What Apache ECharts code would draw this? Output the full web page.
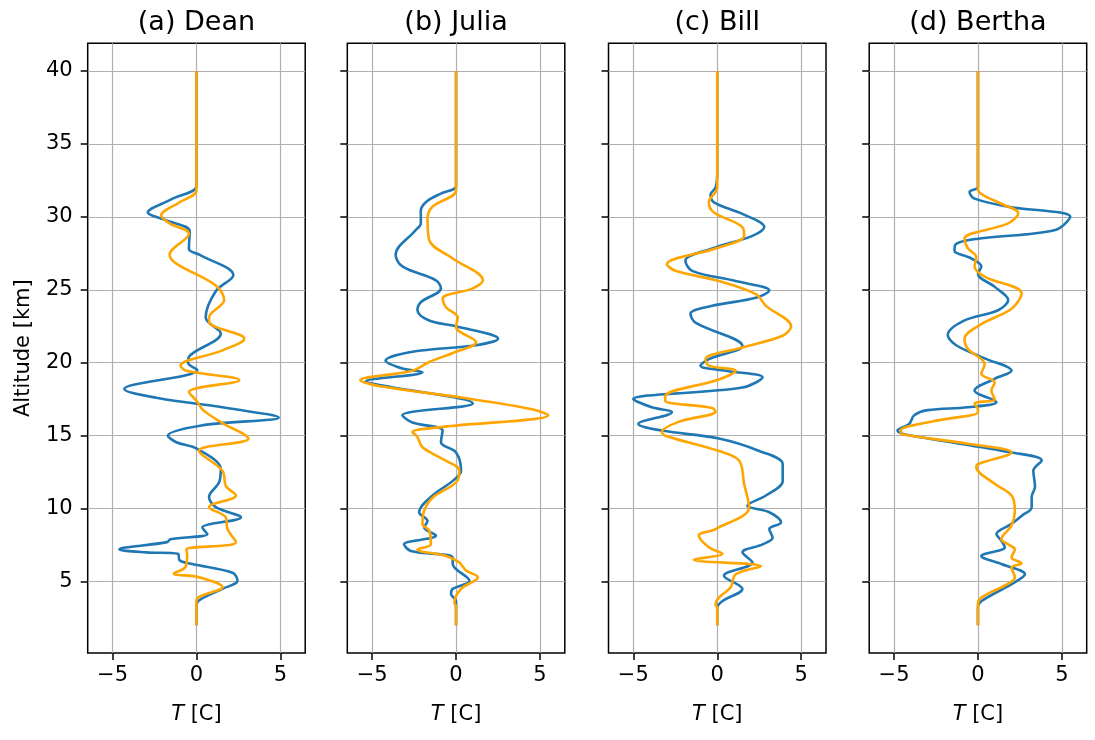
<!DOCTYPE html>
<html style="height: 100%">
<head>
    <meta charset="utf-8">
</head>
<body style="height: 100%; margin: 0; background: #fff">
<div id="container" style="width: 1095px; height: 740px"></div>
<script type="text/javascript" src="https://cdn.jsdelivr.net/npm/echarts@6/dist/echarts.min.js"></script>
<script type="text/javascript">
    var titles = ['(a) Dean', '(b) Julia', '(c) Bill', '(d) Bertha'];
    var xTicks = [-5, 0, 5];
    var yTicks = [5, 10, 15, 20, 25, 30, 35, 40];

    // profiles as [T, altitude km]
    var deanBlue = [[0, 40], [0, 33], [0, 32.1], [-1.5, 31.2], [-2.9, 30.3], [-1.9, 29.8], [-0.4, 29.0], [-0.45, 27.8],
        [0.2, 27.4], [2.2, 26.0], [1.15, 24.9], [0.55, 23.1], [1.45, 22.0], [-0.45, 20.4], [-0.5, 20.0], [0.05, 19.5],
        [-4.3, 18.2], [-2.4, 17.6], [2.1, 16.85], [4.9, 16.25], [0.3, 15.7], [-1.7, 15.0], [-1.2, 14.55], [0.05, 14.1],
        [1.45, 12.7], [1.35, 11.8], [0.75, 10.8], [1.15, 10.1], [2.65, 9.4], [0.35, 8.7], [0.65, 8.25], [-1.55, 7.9],
        [-1.75, 7.7], [-4.6, 7.2], [-3.0, 7.0], [-1.1, 6.9], [-1.0, 6.45], [-0.25, 6.2], [2.15, 5.6], [2.45, 5.05],
        [1.55, 4.5], [0.15, 3.7], [0, 3.3], [0, 2]];
    var deanOrange = [[0, 40], [0, 33], [0, 31.8], [-1.0, 31.0], [-2.1, 30.1], [-1.6, 29.55], [-0.45, 28.85], [-1.6, 27.4],
        [-1.2, 26.8], [1.15, 25.3], [1.65, 24.3], [0.75, 23.1], [0.75, 22.8], [2.85, 21.65], [1.55, 20.85], [-0.95, 19.8],
        [-0.6, 19.45], [2.55, 18.8], [-0.45, 18.0], [0, 17.4], [0.4, 16.75], [1.5, 15.9], [3.1, 14.8], [0.15, 13.95],
        [1.55, 12.6], [1.75, 11.55], [2.35, 10.9], [0.75, 10.1], [1.75, 9.4], [1.85, 8.6], [2.35, 7.7], [-0.6, 7.2],
        [-0.55, 6.9], [-0.65, 6.0], [-1.35, 5.55], [0.15, 5.3], [1.55, 4.6], [0, 3.7], [0, 2]];

    var juliaBlue = [[0, 40], [0, 33], [0, 32.1], [-0.9, 31.6], [-1.7, 31.1], [-2.1, 30.45], [-2.1, 29.55], [-2.4, 29.1],
        [-3.6, 27.4], [-3.2, 26.6], [-1.2, 25.65], [-0.9, 25.1], [-2.1, 24.15], [-2.3, 23.6], [-1.6, 22.9], [0, 22.5],
        [2.5, 21.65], [1.2, 21.2], [-2.6, 20.75], [-4.2, 20.15], [-3.2, 19.6], [-2.0, 19.35], [-5.4, 18.7], [-4.2, 18.4],
        [1.0, 17.2], [-3.2, 16.4], [-2.6, 15.9], [-0.8, 15.35], [-0.9, 14.55], [0, 13.85], [0.3, 12.6], [-0.2, 11.9],
        [-1.4, 10.9], [-2.2, 9.75], [-1.7, 9.15], [-1.9, 8.7], [-1.2, 8.15], [-3.1, 7.55], [-2.7, 7.1], [-0.2, 6.65],
        [-0.2, 6.2], [0.8, 5.05], [-0.2, 4.5], [-0.3, 4.15], [0, 3.65], [0, 2]];
    var juliaOrange = [[0, 40], [0, 33], [0, 31.8], [-1.4, 30.7], [-1.7, 29.9], [-1.6, 28.4], [-0.2, 27.15], [1.6, 25.65],
        [1.0, 25.1], [-0.8, 24.4], [-0.6, 23.8], [0.1, 23.1], [0, 22.45], [1.2, 21.4], [0, 20.75], [-1.6, 20.05],
        [-2.6, 19.45], [-5.7, 18.8], [-4.6, 18.4], [0.4, 17.6], [4.6, 16.8], [5.5, 16.4], [-0.8, 15.6], [-2.6, 15.25],
        [-2.3, 14.9], [-2.0, 14.2], [-0.8, 13.4], [0.2, 12.6], [0, 11.8], [-1.4, 10.75], [-1.9, 9.85], [-2.0, 8.95],
        [-1.6, 8.5], [-1.5, 7.55], [-2.3, 7.2], [-0.6, 6.75], [0.2, 6.3], [0.6, 5.75], [1.3, 5.3], [0.3, 4.5],
        [-0.1, 3.55], [0, 3.3], [0, 2]];

    var billBlue = [[0, 40], [0, 33], [-0.1, 32.0], [-0.4, 31.55], [-0.2, 31.0], [1.5, 30.2], [2.8, 29.3], [2.1, 28.7],
        [-0.1, 27.9], [-1.9, 27.0], [-1.5, 26.3], [1.1, 25.6], [3.1, 24.95], [2.3, 24.45], [-0.3, 23.9], [-1.6, 23.35],
        [-1.3, 22.75], [1.5, 21.15], [-0.5, 20.25], [-1.0, 19.8], [0.5, 19.45], [2.7, 19.0], [1.5, 18.3], [-5.0, 17.5],
        [-3.9, 16.95], [-2.7, 16.6], [-4.7, 15.8], [-3.3, 15.35], [0.1, 14.8], [2.5, 13.95], [3.9, 13.05], [3.9, 11.9],
        [2.9, 10.9], [1.8, 10.2], [3.1, 9.75], [3.8, 9.05], [3.1, 8.6], [3.3, 8.0], [2.7, 7.55], [1.5, 7.0], [2.1, 6.3],
        [0.4, 5.4], [1.5, 4.5], [0.3, 3.65], [0, 3.2], [0, 2]];
    var billOrange = [[0, 40], [0, 33], [0, 32.0], [-0.5, 31.0], [-0.2, 30.3], [1.5, 29.3], [1.6, 28.7], [0.1, 27.9],
        [-3.0, 26.75], [-2.5, 26.3], [0.1, 25.6], [2.3, 24.7], [2.9, 23.9], [4.4, 22.5], [3.9, 21.85], [1.5, 21.05],
        [-0.7, 20.25], [-0.5, 19.8], [1.1, 19.45], [0.1, 18.85], [-3.1, 17.7], [-3.1, 17.4], [-0.3, 16.9], [-0.1, 16.65],
        [-2.3, 15.95], [-3.3, 15.25], [-3.1, 15.0], [0.1, 13.95], [1.3, 13.3], [1.6, 11.7], [1.9, 10.1], [-0.1, 8.6],
        [-1.1, 8.15], [-0.5, 7.35], [0.3, 6.9], [-1.4, 6.5], [2.6, 6.05], [1.1, 5.5], [0.8, 4.6], [0.1, 3.9],
        [-0.1, 3.45], [0, 3.2], [0, 2]];

    var berthaBlue = [[0, 40], [0, 33], [0, 32.05], [-0.5, 31.7], [-0.2, 31.25], [1.8, 30.7], [5.5, 30.0], [4.6, 29.1],
        [0, 28.5], [-1.3, 28.15], [-1.4, 27.7], [-0.4, 27.15], [0.2, 26.6], [0, 26.1], [1.0, 25.2], [1.8, 24.3],
        [1.2, 23.6], [-0.8, 22.9], [-1.8, 21.9], [-1.3, 21.2], [0.4, 20.3], [2.0, 19.45], [1.0, 18.9], [-0.2, 18.1],
        [1.1, 17.3], [-0.6, 16.95], [-3.0, 16.75], [-3.8, 16.4], [-4.1, 15.8], [-4.8, 15.35], [-4.4, 15.1], [2.0, 13.85],
        [3.8, 13.3], [3.3, 12.6], [3.4, 11.5], [3.2, 10.8], [3.2, 10.1], [2.6, 9.5], [2.0, 8.95], [1.1, 8.25],
        [1.4, 7.8], [1.6, 7.35], [0.2, 6.75], [1.4, 6.2], [2.8, 5.5], [2.2, 4.95], [0.2, 3.65], [0, 3.2], [0, 2]];
    var berthaOrange = [[0, 40], [0, 33], [0, 31.9], [0.3, 31.5], [1.4, 30.9], [2.4, 30.25], [1.8, 29.55], [-0.8, 28.5],
        [-0.6, 27.85], [-0.1, 27.25], [-0.2, 26.6], [0.4, 25.9], [2.6, 24.75], [2.0, 23.7], [0.2, 22.65], [-0.8, 21.65],
        [-0.6, 20.95], [0.2, 20.25], [0.4, 19.9], [0.2, 19.25], [1.0, 18.65], [0.8, 18.1], [1.0, 17.5], [-0.2, 17.2],
        [0, 16.8], [0, 16.6], [-2.6, 16.0], [-4.6, 15.35], [-4.5, 15.1], [-0.6, 14.45], [2.0, 13.85], [0, 13.05],
        [-0.1, 12.85], [1.0, 11.7], [2.0, 10.9], [2.2, 9.85], [2.0, 8.85], [1.4, 7.9], [1.8, 7.55], [2.2, 7.2],
        [2.0, 6.65], [2.6, 6.25], [2.0, 5.95], [2.2, 5.3], [1.8, 4.85], [0.2, 3.9], [0, 3.45], [0, 2]];

    var blueSeries = [deanBlue, juliaBlue, billBlue, berthaBlue];
    var orangeSeries = [deanOrange, juliaOrange, billOrange, berthaOrange];

    var dom = document.getElementById("container");
    var myChart = echarts.init(dom);
    var FONT = 'DejaVu Sans';
    var panelLeft = [87.7, 347.3, 608.5, 869.2];
    var panelWidth = 217.5;
    var panelTop = 43.3;
    var panelHeight = 609.7;

    var option = {
        animation: false,
        backgroundColor: '#fff',
        title: [],
        grid: [],
        xAxis: [],
        yAxis: [],
        series: []
    };

    for (var i = 0; i < 4; i++) {
        option.title.push({
            text: titles[i],
            left: panelLeft[i] + panelWidth / 2 - 5,
            top: 4,
            textAlign: 'center',
            textStyle: {fontFamily: FONT, fontSize: 27, fontWeight: 'normal', color: '#000'}
        });
        option.grid.push({
            left: panelLeft[i],
            top: panelTop,
            width: panelWidth,
            height: panelHeight,
            show: true,
            borderColor: '#000',
            borderWidth: 1.5
        });
        option.xAxis.push({
            type: 'value',
            gridIndex: i,
            min: -6.48,
            max: 6.48,
            name: '{i|T} [C]',
            nameLocation: 'middle',
            nameGap: 51,
            nameTextStyle: {
                fontFamily: FONT, fontSize: 21, color: '#000',
                rich: {i: {fontFamily: FONT, fontSize: 21, fontStyle: 'italic', color: '#000'}}
            },
            axisLine: {show: false, onZero: false},
            axisTick: {show: true, length: 7, customValues: xTicks, lineStyle: {color: '#000', width: 1.5}},
            axisLabel: {
                customValues: xTicks, margin: 12, fontFamily: FONT, fontSize: 21, color: '#000',
                formatter: function (v) { return v < 0 ? '\u2212' + (-v) : String(v); }
            },
            splitLine: {show: true, lineStyle: {color: '#b0b0b0', width: 1.2}}
        });
        option.yAxis.push({
            type: 'value',
            gridIndex: i,
            min: 0.1,
            max: 41.9,
            name: i === 0 ? 'Altitude [km]' : '',
            nameLocation: 'middle',
            nameGap: 54,
            nameRotate: 90,
            nameTextStyle: {fontFamily: FONT, fontSize: 21, color: '#000'},
            axisLine: {show: false, onZero: false},
            axisTick: {show: true, length: 7, customValues: yTicks, lineStyle: {color: '#000', width: 1.5}},
            axisLabel: {show: i === 0, customValues: yTicks, margin: 15, fontFamily: FONT, fontSize: 21, color: '#000'},
            splitLine: {show: true, lineStyle: {color: '#b0b0b0', width: 1.2}}
        });
        option.series.push({
            type: 'line', xAxisIndex: i, yAxisIndex: i,
            data: blueSeries[i], showSymbol: false, smooth: 0.35,
            lineStyle: {color: '#1f77b4', width: 2.6}, itemStyle: {color: '#1f77b4'}
        });
        option.series.push({
            type: 'line', xAxisIndex: i, yAxisIndex: i,
            data: orangeSeries[i], showSymbol: false, smooth: 0.35,
            lineStyle: {color: '#ffa500', width: 2.6}, itemStyle: {color: '#ffa500'}
        });
    }

    myChart.setOption(option);
</script>
</body>
</html>
